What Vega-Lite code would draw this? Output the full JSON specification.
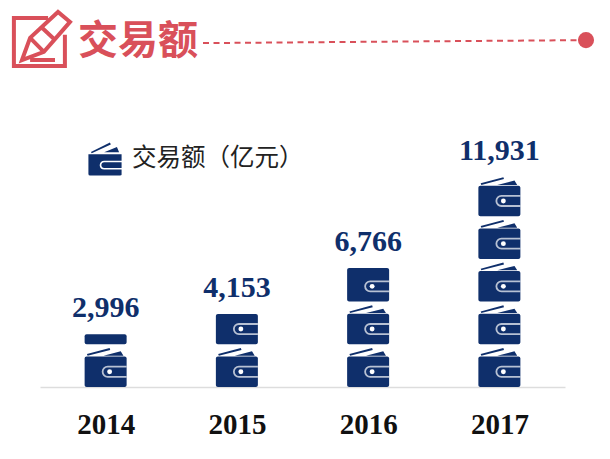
{
"$schema":"https://vega.github.io/schema/vega-lite/v6.json",
"width":525,"height":317,
"autosize":{"type":"none"},
"padding":{"left":40,"top":70,"right":45,"bottom":72},
"background":"white",
"view":{"stroke":null},
"title":{"text":"交易额","anchor":"start","frame":"group","dx":38,"offset":-90,"fontSize":40,"fontWeight":"bold","font":"Noto Sans CJK SC","color":"#d9505a","baseline":"alphabetic"},
"datasets":{
"totals":[{"year":2014,"value":2996},{"year":2015,"value":4153},{"year":2016,"value":6766},{"year":2017,"value":11931}],
"wallets":[
{"year":2014,"start":0,"end":1733,"series":"交易额（亿元）"},{"year":2014,"start":2426,"end":2996,"series":"交易额（亿元）"},
{"year":2015,"start":0,"end":1733,"series":"交易额（亿元）"},{"year":2015,"start":2426,"end":4153,"series":"交易额（亿元）"},
{"year":2016,"start":0,"end":1733,"series":"交易额（亿元）"},{"year":2016,"start":2426,"end":4159,"series":"交易额（亿元）"},{"year":2016,"start":4852,"end":6766,"series":"交易额（亿元）"},
{"year":2017,"start":0,"end":1733,"series":"交易额（亿元）"},{"year":2017,"start":2426,"end":4159,"series":"交易额（亿元）"},{"year":2017,"start":4852,"end":6585,"series":"交易额（亿元）"},{"year":2017,"start":7278,"end":9011,"series":"交易额（亿元）"},{"year":2017,"start":9704,"end":11437,"series":"交易额（亿元）"}],
"clasps":[{"year":2014,"mid":867},{"year":2015,"mid":867},{"year":2015,"mid":3293},{"year":2016,"mid":867},{"year":2016,"mid":3293},{"year":2016,"mid":5719},{"year":2017,"mid":867},{"year":2017,"mid":3293},{"year":2017,"mid":5719},{"year":2017,"mid":8145},{"year":2017,"mid":10571}],
"flaps":[{"year":2014,"pos":1990},{"year":2015,"pos":1990},{"year":2016,"pos":1990},{"year":2016,"pos":4416},{"year":2017,"pos":1990},{"year":2017,"pos":4416},{"year":2017,"pos":6842},{"year":2017,"pos":9268},{"year":2017,"pos":11694}]
},
"data":{"name":"totals"},
"layer":[
{"data":{"name":"wallets"},
 "mark":{"type":"bar","size":42,"cornerRadius":2,"clip":false},
 "encoding":{
  "x":{"field":"year","type":"quantitative","scale":{"domain":[2013.5,2017.5],"nice":false,"zero":false,"padding":0},
   "axis":{"title":null,"values":[2014,2015,2016,2017],"format":"d","grid":false,"ticks":false,"domainColor":"#dddddd","domainWidth":1.5,"labelFont":"Liberation Serif","labelFontWeight":"bold","labelFontSize":29,"labelColor":"#111111","labelPadding":23,"labelFlush":false,"labelOverlap":false}},
  "y":{"field":"start","type":"quantitative","scale":{"domain":[0,18011],"nice":false},"axis":null},
  "y2":{"field":"end"},
  "color":{"field":"series","type":"nominal","scale":{"range":["#0f2f6b"]},
   "legend":{"title":null,"orient":"none","legendX":48,"legendY":72,
    "symbolType":"M-1,-.28 L1,-.28 L1,.95 Q1,1 .9,1 L-.9,1 Q-1,1 -1,.9 Z M1,.1 L-.05,.1 A.27,.27 0 0 0 -.05,.64 L1,.64 L1,.54 L-.05,.54 A.17,.17 0 0 1 -.05,.2 L1,.2 Z M-.85,-.42 L.3,-1 L.35,-.88 L-.8,-.34 Z M-.05,-.4 L.72,-.72 L.85,-.4 Z",
    "symbolSize":1100,"symbolStrokeWidth":0,"labelFont":"Noto Sans CJK SC","labelFontSize":24.5,"labelColor":"#222222","labelLimit":0,"labelOffset":10}}
 }},
{"data":{"name":"clasps"},
 "mark":{"type":"point","filled":false,"stroke":"#ffffff","strokeWidth":1.8,"size":576,"xOffset":9,"clip":false,"shape":"M1,-.42 L-.58,-.42 A.42,.42 0 0 0 -.58,.42 L1,.42"},
 "encoding":{"x":{"field":"year","type":"quantitative"},"y":{"field":"mid","type":"quantitative"}}},
{"data":{"name":"clasps"},
 "mark":{"type":"point","filled":true,"fill":"#ffffff","opacity":1,"size":24,"xOffset":4,"shape":"circle"},
 "encoding":{"x":{"field":"year","type":"quantitative"},"y":{"field":"mid","type":"quantitative"}}},
{"data":{"name":"flaps"},
 "mark":{"type":"point","filled":true,"fill":"#0f2f6b","opacity":1,"size":1764,"strokeWidth":0,"clip":false,"shape":"M-.89,.1 L.19,-.19 L.22,-.1 L-.86,.18 Z M-.1,.18 L.72,-.03 L.85,.18 Z"},
 "encoding":{"x":{"field":"year","type":"quantitative"},"y":{"field":"pos","type":"quantitative"}}},
{"mark":{"type":"text","dy":-26,"font":"Liberation Serif","fontWeight":"bold","fontSize":30,"color":"#0f2f6b","baseline":"middle","align":"center"},
 "encoding":{"x":{"field":"year","type":"quantitative"},"y":{"field":"value","type":"quantitative"},"text":{"field":"value","type":"quantitative","format":","}}},
{"data":{"values":[{"a":2014.742,"b":2017.66,"p":19540,"q":19710}]},
 "mark":{"type":"rule","color":"#d9505a","strokeWidth":2,"strokeDash":[6,4.5],"clip":false},
 "encoding":{"x":{"field":"a","type":"quantitative"},"x2":{"field":"b"},"y":{"field":"p","type":"quantitative"},"y2":{"field":"q"}}},
{"data":{"values":[{"a":2017.66,"q":19710}]},
 "mark":{"type":"point","filled":true,"fill":"#d9505a","opacity":1,"size":260,"shape":"circle","clip":false},
 "encoding":{"x":{"field":"a","type":"quantitative"},"y":{"field":"q","type":"quantitative"}}},
{"data":{"values":[{"a":2013.5,"q":19720}]},
 "mark":{"type":"point","filled":false,"stroke":"#d9505a","strokeWidth":4,"opacity":1,"size":3600,"clip":false,"shape":"M.27,-.73 L-.87,-.73 L-.87,.87 L.83,.87 L.83,-.17 M-.6,.67 L-.33,-.07 L.6,-.93 L1,-.6 L.13,.4 Z M-.33,-.07 L.13,.4 M-.33,.67 L.5,.67 M.05,-.42 L.45,-.05"},
 "encoding":{"x":{"field":"a","type":"quantitative"},"y":{"field":"q","type":"quantitative"}}}
]
}
